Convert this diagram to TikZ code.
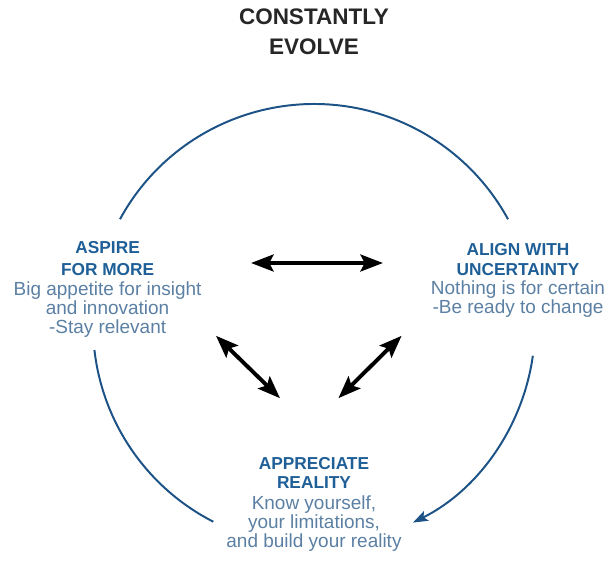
\documentclass[tikz,border=0pt]{standalone}
\usepackage{fontspec}
\setmainfont{Liberation Sans}
\usepackage{tikz}
\usetikzlibrary{positioning, arrows.meta}

\definecolor{cycleblue}{HTML}{1C5285}
\definecolor{headblue}{HTML}{1F5F97}
\definecolor{textblue}{HTML}{5B80A3}

% heading line of a phase
\newcommand{\phasehead}[1]{{\bfseries\fontsize{12.3}{13.6}\selectfont\color{headblue}#1}}

\begin{document}
\begin{tikzpicture}[
	>=Stealth,
	cycle arc/.style={draw=cycleblue, line width=1.4pt},
	link/.style={<->, line width=2.8pt, >={Stealth[length=16pt, width=12pt, inset=3pt]}},
	title/.style={align=center, inner sep=0pt, font=\fontsize{16}{21.3}\selectfont\bfseries, text=black!85},
	phase/.style={align=center, inner sep=0pt, text=textblue, font=\fontsize{13.5}{13.6}\selectfont}
	]
	
	\def\R{5.525} % radius of the cycle
	
	\useasboundingbox (-7.85,-5.9) rectangle (7.475,8.125);
	
	% --- TITLE ---
	\node[title, anchor=north] (evolve) at (0,7.9) {CONSTANTLY\\EVOLVE};
	
	% --- THE THREE PHASES ---
	\node[phase, anchor=north] (aspire) at (-5.16,2.09)
	{\phasehead{ASPIRE}\\[1.8pt]
	 \phasehead{FOR MORE}\\[0.6pt]
	 Big appetite for insight\\and innovation\\-Stay relevant};
	
	\node[phase, anchor=north] (align) at (5.1,2.04)
	{\phasehead{ALIGN WITH}\\[0.2pt]
	 \phasehead{UNCERTAINTY}\\[0.2pt]
	 Nothing is for certain\\-Be ready to change};
	
	\node[phase, anchor=north] (reality) at (0,-3.31)
	{\phasehead{APPRECIATE}\\
	 \phasehead{REALITY}\\[1pt]
	 Know yourself,\\your limitations,\\and build your reality};
	
	% --- CYCLE ARCS ---
	\draw[cycle arc] (151.4:\R) arc (151.4:28.6:\R);
	\draw[cycle arc, -{Stealth[length=10.5pt, width=7.5pt, inset=2pt]}] (-8:\R) arc (-8:-63.4:\R);
	\draw[cycle arc] (186.5:\R) arc (186.5:242.9:\R);
	
	% --- LINKS BETWEEN PHASES ---
	\coordinate (a1) at (-1.575,1.55);
	\coordinate (a2) at (1.725,1.55);
	\coordinate (b1) at (-2.45,-0.27);
	\coordinate (b2) at (-0.85,-1.83);
	\coordinate (c1) at (2.19,-0.27);
	\coordinate (c2) at (0.61,-1.83);
	
	\draw[link] (a1) -- (a2);
	\draw[link] (b1) -- (b2);
	\draw[link] (c1) -- (c2);
	
\end{tikzpicture}
\end{document}
